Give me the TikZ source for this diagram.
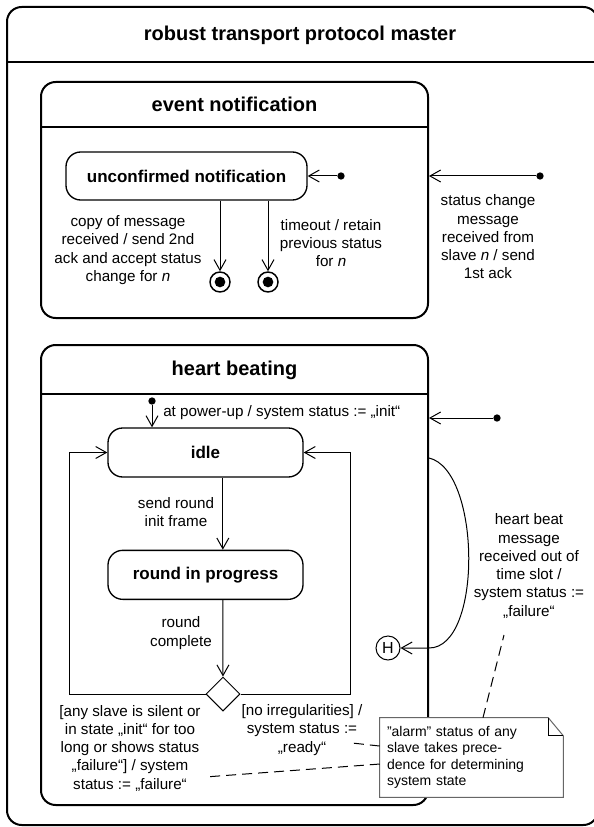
\documentclass[tikz,border=0pt]{standalone}
\usepackage{fontspec}
\setmainfont{Liberation Sans}
\usetikzlibrary{arrows.meta,positioning,shapes.geometric}

\begin{document}
\begin{tikzpicture}[x=0.75pt,y=-0.75pt,
		>={Straight Barb[length=8pt,width=9pt]},
		trans/.style={->,line width=0.75pt},
		container/.style={draw,line width=1.5pt,rounded corners=11pt,inner sep=0pt},
		cont title/.style={font=\bfseries\fontsize{15}{18}\selectfont},
		main node/.style={draw,line width=1pt,rounded corners=11pt,minimum width=146.25pt,
			minimum height=36.75pt,font=\bfseries\fontsize{12.75}{15}\selectfont},
		label node/.style={align=center,inner sep=0pt,font=\fontsize{11.4}{13.7}\selectfont},
		init node/.style={circle,fill,inner sep=0pt,minimum size=5.5pt},
		final node/.style={circle,draw,line width=1.1pt,inner sep=0pt,minimum size=15pt,
			path picture={\fill (path picture bounding box.center) circle (4pt);}},
		choice node/.style={diamond,draw,line width=0.75pt,inner sep=0pt,minimum size=25.5pt},
		hist node/.style={circle,draw,line width=0.75pt,inner sep=0pt,minimum size=18pt,
			font=\fontsize{12}{14}\selectfont},
		note node/.style={fill=white,align=left,text width=126.75pt,inner xsep=5.25pt,inner ysep=0pt,
			minimum height=59.25pt,font=\fontsize{10.5}{12.4}\selectfont},
		note line/.style={line width=0.75pt,dash pattern=on 7.5pt off 4.5pt}]
	\useasboundingbox (0,0) rectangle (593,827);
	%
	% Outer state with its title bar (its right side runs off the page).
	\node[container,minimum width=443.25pt,minimum height=613.5pt] (master) at (302.5,416) {};
	\draw[line width=1.5pt] (master.west |- 0,62) -- (master.east |- 0,62);
	\node[cont title] (mastertitle) at (300,35) {robust transport protocol master};
	%
	% Event notification region.
	\node[container,minimum width=290.25pt,minimum height=177pt] (event) at (234.5,200) {};
	\draw[line width=1.5pt] (event.west |- 0,127) -- (event.east |- 0,127);
	\node[cont title] (eventtitle) at (234.5,104) {event notification};
	\node[main node,minimum width=180.75pt,minimum height=36pt] (unconf) at (186.5,176) {unconfirmed notification};
	\node[init node] (unconfinit) at (341,176) {};
	\node[final node] (fin1) at (220,282) {};
	\node[final node] (fin2) at (268,282) {};
	\node[label node] (copylbl) at (128,250) {copy of message\\received / send 2nd\\ack and accept status\\change for \textit{n}};
	\node[label node] (timeoutlbl) at (331,243) {timeout / retain\\previous status\\for \textit{n}};
	\node[init node] (eventinit) at (540,176) {};
	\node[label node] (changelbl) at (488,237) {status change\\message\\received from\\slave \textit{n} / send\\1st ack};
	\draw[trans] (unconfinit) -- (unconf);
	\draw[trans] (unconf.south -| fin1) -- (fin1);
	\draw[trans] (unconf.south -| fin2) -- (fin2);
	\draw[trans] (eventinit) -- (event.east |- eventinit);
	%
	% Heart beating region.
	\node[container,minimum width=290.25pt,minimum height=345pt] (heart) at (234.5,575) {};
	\draw[line width=1.5pt] (heart.west |- 0,394) -- (heart.east |- 0,394);
	\node[cont title] (hearttitle) at (234.5,370) {heart beating};
	\node[main node] (idle) at (205.5,452.5) {idle};
	\node[main node,below=54pt of idle] (round) {round in progress};
	\node[init node] (idleinit) at (152,401) {};
	\node[label node,anchor=west] (poweruplbl) at (163,413) {at power-up / system status := „init“};
	\node[choice node] (check) at (223,694) {};
	\node[hist node] (hist) at (388,648) {H};
	\node[init node] (heartinit) at (497,418) {};
	\node[label node] (sendlbl) at (176,512) {send round\\init frame};
	\node[label node] (completelbl) at (181,633) {round\\complete};
	\node[label node] (faillbl) at (130,748) {[any slave is silent or\\in state „init“ for too\\long or shows status\\„failure“] / system\\status := „failure“};
	\node[label node] (readylbl) at (302,730) {[no irregularities] /\\system status :=\\„ready“};
	\node[label node] (beatlbl) at (529,566) {heart beat\\message\\received out of\\time slot /\\system status :=\\„failure“};
	\draw[trans] (idleinit) -- (idle.north -| idleinit);
	\draw[trans] (heartinit) -- (heart.east |- heartinit);
	\draw[trans] ([xshift=13pt]idle.south) -- ([xshift=13pt]round.north);
	\draw[trans] ([xshift=13pt]round.south) -- (check);
	\draw[trans] (check.west) -| ([xshift=-28.5pt]idle.west) -- (idle.west);
	\draw[trans] (check.east) -| ([xshift=35.25pt]idle.east) -- (idle.east);
	\draw[trans] ([yshift=87.75pt]heart.east) .. controls +(52,12) and +(54,0) .. ([yshift=-54.75pt]heart.east) -- (hist);
	%
	% Note about the alarm status, laid over the region border.
	\node[note node] (alarm) at (471.5,757.5) {"alarm" status of any\\slave takes prece-\\dence for determining\\system state};
	\draw[black!60,line width=0.75pt] (alarm.north west) -- ([xshift=-11.25pt]alarm.north east)
		-- ([yshift=-13.5pt]alarm.north east) -- (alarm.south east) -- (alarm.south west) -- cycle;
	\draw[line width=0.75pt] ([xshift=-11.25pt]alarm.north east) |- ([yshift=-13.5pt]alarm.north east);
	\coordinate (readyend) at (352,743);
	\coordinate (failend) at (205,777);
	\coordinate (beatend) at (504,635);
	\draw[note line] ([yshift=8.6pt]alarm.west) -- (readyend);
	\draw[note line] ([yshift=-4.9pt]alarm.west) -- (failend);
	\draw[note line] ([xshift=8.6pt]alarm.north) -- (beatend);
\end{tikzpicture}
\end{document}
